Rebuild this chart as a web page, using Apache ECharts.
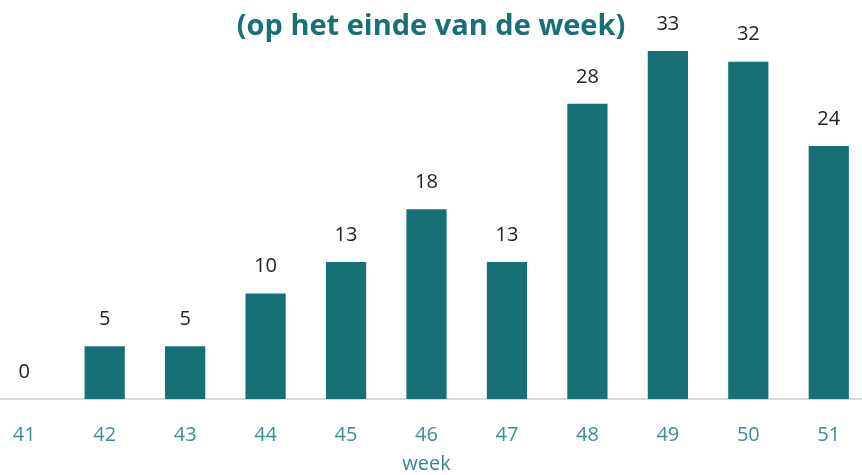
<!DOCTYPE html>
<html>
<head>
    <meta charset="utf-8">
    <title>Week chart</title>
    <script src="https://cdn.jsdelivr.net/npm/echarts@6/dist/echarts.min.js"></script>
    <style>
        html, body { margin: 0; padding: 0; background: #fff; }
        #main { width: 862px; height: 475px; }
    </style>
</head>
<body>
    <div id="main"></div>
    <script type="text/javascript">
        var weeks = ['41', '42', '43', '44', '45', '46', '47', '48', '49', '50', '51'];
        var counts = [0, 5, 5, 10, 13, 18, 13, 28, 33, 32, 24];

        var teal = '#167075';
        var chart = echarts.init(document.getElementById('main'), null, {renderer: 'canvas'});

        var option = {
            animation: false,
            title: {
                text: '(op het einde van de week)',
                left: 426,
                top: 7,
                textAlign: 'center',
                textStyle: {
                    color: teal,
                    fontSize: 29,
                    fontWeight: 'bold',
                    fontFamily: '"Open Sans", sans-serif'
                }
            },
            grid: {
                left: -16,
                width: 885,
                top: 30,
                bottom: 76,
                outerBoundsMode: 'none',
                containLabel: false
            },
            xAxis: {
                type: 'category',
                data: weeks,
                name: 'week',
                nameLocation: 'middle',
                nameGap: 55,
                nameTextStyle: {
                    color: '#2f8a8e',
                    fontSize: 20,
                    fontFamily: '"Open Sans", sans-serif'
                },
                axisLine: { lineStyle: { color: '#d9d9d9', width: 2 } },
                axisTick: { show: false },
                axisLabel: {
                    color: '#3a8f93',
                    fontSize: 20,
                    margin: 26,
                    fontFamily: '"Open Sans", sans-serif'
                }
            },
            yAxis: {
                type: 'value',
                min: 0,
                max: 35,
                show: false,
                splitLine: { show: false }
            },
            series: [{
                type: 'bar',
                data: counts,
                barWidth: '50%',
                itemStyle: { color: teal },
                label: {
                    show: true,
                    position: 'top',
                    distance: 17,
                    color: '#222',
                    fontSize: 20,
                    fontFamily: '"Open Sans", sans-serif'
                }
            }]
        };
        chart.setOption(option);
    </script>
</body>
</html>
